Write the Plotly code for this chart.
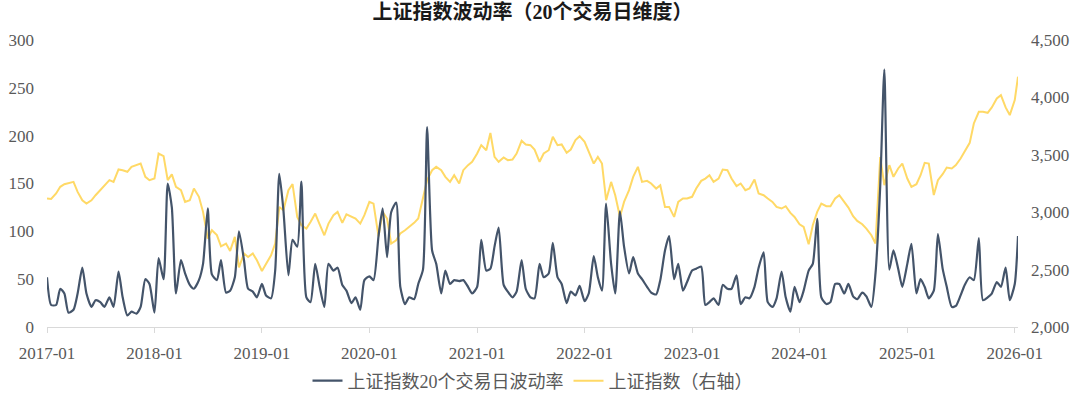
import pandas as pd
import plotly.graph_objects as go

# semi-monthly observation dates (1st / 15th of each month) plus the last reading
dates = list(pd.date_range("2017-01-01", "2026-01-01", freq="SMS").strftime("%Y-%m-%d")) + ["2026-01-12"]

# 上证指数20个交易日波动率 (left axis)
vol = [
    52, 23, 23, 40, 35, 15, 18, 35, 62, 35, 21, 28,
    26, 21, 31, 21, 58, 31, 12, 16, 14, 21, 50, 45,
    15, 72, 50, 150, 125, 35, 70, 56, 44, 40, 49, 66,
    124, 55, 49, 70, 36, 38, 52, 100, 70, 40, 37, 31,
    45, 33, 30, 59, 160, 122, 54, 91, 84, 152, 31, 26,
    66, 44, 21, 66, 59, 62, 44, 38, 25, 31, 18, 49,
    53, 49, 95, 124, 73, 120, 130, 42, 24, 31, 29, 45,
    60, 209, 80, 66, 35, 59, 45, 49, 48, 49, 42, 35,
    42, 91, 59, 61, 84, 104, 44, 37, 31, 37, 70, 40,
    31, 30, 66, 52, 56, 88, 52, 45, 25, 37, 33, 43,
    27, 35, 74, 52, 38, 129, 66, 35, 121, 84, 56, 73,
    56, 50, 42, 36, 34, 49, 80, 95, 50, 66, 38, 47,
    59, 61, 63, 23, 26, 30, 23, 44, 40, 40, 54, 24,
    31, 30, 42, 62, 78, 26, 21, 30, 58, 31, 16, 42,
    26, 38, 59, 66, 113, 31, 24, 26, 45, 45, 35, 45,
    32, 29, 36, 32, 21, 56, 147, 269, 60, 80, 61, 42,
    66, 87, 35, 50, 42, 30, 38, 97, 61, 42, 21, 22,
    33, 44, 52, 49, 93, 28, 31, 35, 47, 42, 62, 28,
    45, 95,
]

# 上证指数 (right axis)
sse = [
    3120, 3115, 3163, 3221, 3244, 3256, 3264, 3177, 3104, 3075, 3104, 3148,
    3192, 3235, 3279, 3264, 3372, 3366, 3352, 3395, 3410, 3424, 3308, 3279,
    3293, 3511, 3488, 3279, 3330, 3221, 3192, 3090, 3104, 3206, 3134, 3003,
    2770, 2843, 2800, 2703, 2727, 2663, 2785, 2520, 2640, 2610, 2640, 2581,
    2488, 2552, 2625, 2727, 3046, 3017, 3192, 3244, 2959, 2886, 2857, 2915,
    2988, 2901, 2799, 2901, 2974, 3003, 2907, 2982, 2959, 2945, 2901, 2974,
    3090, 3075, 2790, 3003, 2945, 2727, 2756, 2814, 2843, 2872, 2907, 2945,
    3134, 3279, 3366, 3395, 3366, 3308, 3264, 3322, 3250, 3366, 3410, 3439,
    3511, 3584, 3540, 3690, 3482, 3439, 3477, 3453, 3459, 3511, 3622, 3590,
    3584, 3546, 3439, 3511, 3540, 3657, 3584, 3590, 3517, 3546, 3628, 3662,
    3613, 3526, 3424, 3482, 3424, 3104, 3264, 3148, 2960, 3090, 3192, 3308,
    3395, 3264, 3273, 3250, 3206, 3235, 3046, 3046, 2959, 3090, 3119, 3119,
    3134, 3206, 3273, 3293, 3322, 3264, 3293, 3372, 3366, 3293, 3227, 3250,
    3192, 3206, 3285, 3163, 3148, 3119, 3090, 3046, 3032, 3052, 2994, 2959,
    2895, 2872, 2720, 2886, 3003, 3075, 3052, 3052, 3119, 3148, 3090, 3040,
    2965, 2924, 2895, 2857, 2799, 2727, 3480, 3235, 3410, 3308, 3381, 3424,
    3293, 3221, 3244, 3322, 3430, 3424, 3150, 3279, 3331, 3389, 3381, 3410,
    3468, 3535, 3604, 3773, 3875, 3875, 3866, 3913, 3991, 4020, 3913, 3846,
    3977, 4180,
]

tick_dates = ["2017-01-01", "2018-01-01", "2019-01-01", "2020-01-01", "2021-01-01",
              "2022-01-01", "2023-01-01", "2024-01-01", "2025-01-01", "2026-01-01"]
tick_labels = ["2017-01", "2018-01", "2019-01", "2020-01", "2021-01",
               "2022-01", "2023-01", "2024-01", "2025-01", "2026-01"]

FONT = "'Liberation Serif', 'Times New Roman', 'Noto Sans CJK SC', serif"
GRAY = "#595959"

fig = go.Figure()
fig.add_trace(go.Scatter(
    x=dates, y=vol, name="上证指数20个交易日波动率", mode="lines",
    line=dict(color="#44546A", width=2.2, shape="spline", smoothing=0.6), yaxis="y2",
))
fig.add_trace(go.Scatter(
    x=dates, y=sse, name="上证指数（右轴）", mode="lines",
    line=dict(color="#FFD966", width=2), yaxis="y",
))

fig.update_layout(
    width=1080, height=394,
    margin=dict(l=47, r=62, t=40, b=67, autoexpand=False),
    paper_bgcolor="white", plot_bgcolor="white",
    font=dict(family=FONT, size=17, color=GRAY),
    title=dict(
        text="上证指数波动率（20个交易日维度）",
        x=0.5, xref="paper", xanchor="center",
        y=1 - 12 / 394, yref="container", yanchor="middle",
        font=dict(family=FONT, size=20, color="#1a1a1a", weight="bold"),
    ),
    xaxis=dict(
        type="date", range=["2017-01-01", "2026-01-12"],
        tickvals=tick_dates, ticktext=tick_labels,
        showline=True, linecolor="#D9D9D9", linewidth=1,
        ticks="outside", ticklen=5, tickcolor="#D9D9D9",
        showgrid=False, zeroline=False, ticklabelstandoff=6,
        tickfont=dict(family=FONT, size=17, color=GRAY),
    ),
    yaxis=dict(
        side="right", range=[2000, 4500], dtick=500, tickformat=",",
        showgrid=False, zeroline=False, showline=False,
        ticklabelstandoff=12,
        tickfont=dict(family=FONT, size=17, color=GRAY),
    ),
    yaxis2=dict(
        overlaying="y", side="left", range=[0, 300], dtick=50,
        showgrid=False, zeroline=False, showline=False,
        ticklabelstandoff=12,
        tickfont=dict(family=FONT, size=17, color=GRAY),
    ),
    legend=dict(
        orientation="h", x=0.5, xanchor="center",
        yref="container", y=1 - 381 / 394, yanchor="middle",
        font=dict(family=FONT, size=18, color=GRAY),
        itemwidth=30, traceorder="normal",
    ),
    showlegend=True,
)

# remove the browser's default page margin so the figure sits at the window origin
fig.write_html("out.html", config={"displayModeBar": False},
               post_script="document.body.style.margin='0';")
